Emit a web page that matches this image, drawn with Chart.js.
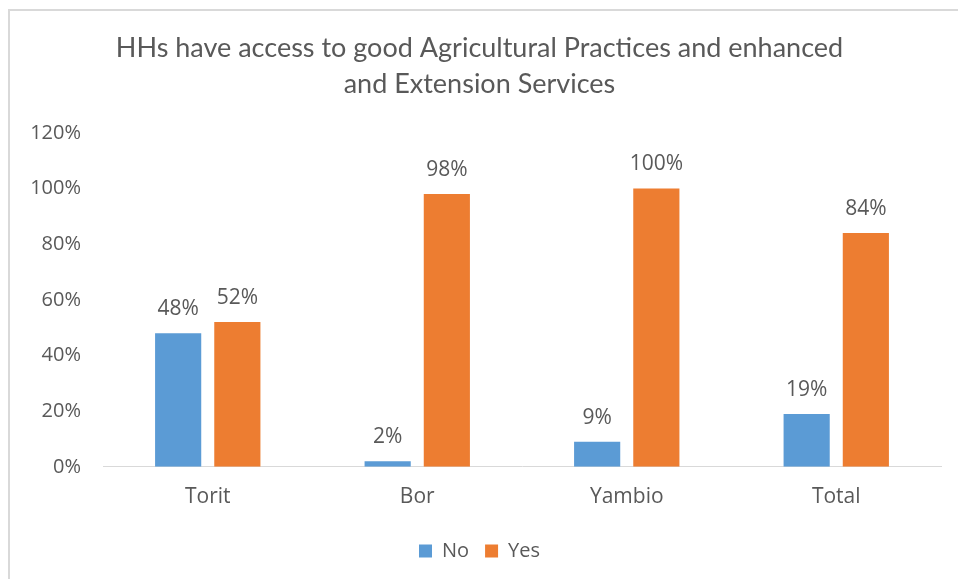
<!DOCTYPE html>
<html>
<head>
<meta charset="utf-8">
<script src="https://cdn.jsdelivr.net/npm/chart.js@4"></script>
<style>
    html, body { margin: 0; padding: 0; background: #fff; }
    #wrap {
        position: absolute; left: 8px; top: 9px; width: 950px; height: 570px;
        border-top: 2px solid #d9d9d9; border-left: 2px solid #d9d9d9;
        box-sizing: border-box;
    }
    #box { position: absolute; left: 0; top: 0; width: 958px; height: 579px; }
</style>
</head>
<body>
<div id="wrap"></div>
<div id="box"><canvas id="barChart"></canvas></div>
<script>
// chart data
const categories = ['Torit', 'Bor', 'Yambio', 'Total'];
const noValues = [48, 2, 9, 19];
const yesValues = [52, 98, 100, 84];
const yTicks = [0, 20, 40, 60, 80, 100, 120];

const textColor = '#595959';
const titleFont = "'Lato', 'Open Sans', sans-serif";
const bodyFont = "'Open Sans', sans-serif";

// draws the % value above every bar
const barLabels = {
    id: 'barLabels',
    afterDatasetsDraw(chart) {
        const ctx = chart.ctx;
        ctx.save();
        ctx.fillStyle = textColor;
        ctx.font = '21px ' + bodyFont;
        ctx.textAlign = 'center';
        ctx.textBaseline = 'alphabetic';
        chart.data.datasets.forEach(function (ds, i) {
            chart.getDatasetMeta(i).data.forEach(function (bar, j) {
                ctx.fillText(ds.data[j] + '%', bar.x, bar.y - 18);
            });
        });
        ctx.restore();
    }
};

document.addEventListener('DOMContentLoaded', function () {
    const ctx = document.getElementById('barChart').getContext('2d');
    new Chart(ctx, {
        type: 'bar',
        data: {
            labels: categories,
            datasets: [{
                label: 'No',
                data: noValues,
                backgroundColor: '#5b9bd5',
                categoryPercentage: 0.565,
                barPercentage: 0.78
            }, {
                label: 'Yes',
                data: yesValues,
                backgroundColor: '#ed7d31',
                categoryPercentage: 0.565,
                barPercentage: 0.78
            }]
        },
        options: {
            responsive: true,
            maintainAspectRatio: false,
            animation: false,
            layout: { padding: { left: 18, right: 17, top: 30, bottom: 8 } },
            plugins: {
                title: {
                    display: true,
                    text: ['HHs have access to good Agricultural Practices and enhanced', 'and Extension Services'],
                    color: textColor,
                    font: { family: titleFont, size: 27, weight: 'normal', lineHeight: 1.33 },
                    padding: { top: 0, bottom: 31 }
                },
                legend: {
                    position: 'bottom',
                    labels: {
                        color: textColor,
                        font: { family: bodyFont, size: 20 },
                        boxWidth: 13,
                        boxHeight: 13,
                        padding: 16
                    }
                },
                tooltip: { enabled: false }
            },
            scales: {
                x: {
                    grid: { display: false },
                    border: { color: '#d9d9d9', width: 1 },
                    ticks: { color: textColor, font: { family: bodyFont, size: 21 }, padding: 10 },
                    afterFit: function (axis) {
                        axis.height += 5;
                    }
                },
                y: {
                    min: 0,
                    max: 120,
                    grid: { display: false },
                    border: { display: false },
                    afterBuildTicks: function (axis) {
                        axis.ticks = yTicks.map(function (v) { return { value: v }; });
                    },
                    afterFit: function (axis) {
                        axis.width = 85;
                    },
                    ticks: {
                        color: textColor,
                        font: { family: bodyFont, size: 20 },
                        padding: 14,
                        callback: function (v) { return v + '%'; }
                    }
                }
            }
        },
        plugins: [barLabels]
    });
});
</script>
</body>
</html>
